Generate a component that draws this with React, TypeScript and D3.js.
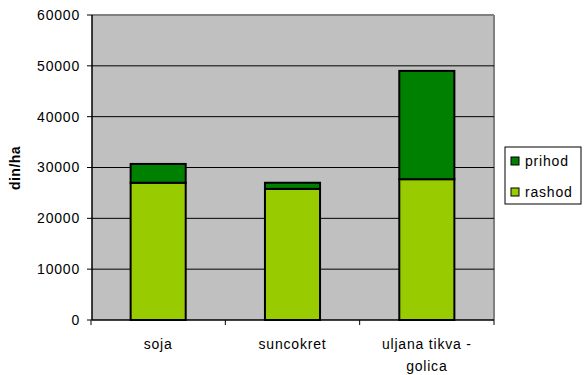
import React from "react";
import * as d3 from "d3";

const categories = ["soja", "suncokret", "uljana tikva - golica"];
const categoryLines = [["soja"], ["suncokret"], ["uljana tikva -", "golica"]];
const rashod = [27000, 25800, 27700];
const prihod = [3700, 1200, 21300];
const yTicks = [0, 10000, 20000, 30000, 40000, 50000, 60000];
const seriesNames = ["prihod", "rashod"];
const seriesColors = ["#008000", "#99CC00"];

export default function App() {
  const W = 584, H = 375;
  const left = 92, right = 494, top = 15, bottom = 320;
  const x = d3.scaleBand<string>().domain(categories).range([left - 1, right]).paddingInner(0.59).paddingOuter(0.295);
  const y = d3.scaleLinear().domain([0, 60000]).range([bottom, top]);
  const font = "Arial, 'Liberation Sans', sans-serif";
  const ls = 0.8;
  return (
    <svg width={W} height={H} style={{ position: "absolute", left: 0, top: 0 }} fontFamily={font}>
      <rect x={0} y={0} width={W} height={H} fill="#fff" />
      <rect x={left} y={top} width={right - left} height={bottom - top} fill="#C0C0C0" />
      <line x1={left} x2={right} y1={top} y2={top} stroke="#808080" strokeWidth={2} />
      <line x1={right} x2={right} y1={top} y2={bottom} stroke="#808080" strokeWidth={2} />
      {yTicks.slice(1, -1).map((t) => (
        <line key={t} x1={left} x2={right} y1={y(t)} y2={y(t)} stroke="#000" strokeWidth={1} />
      ))}
      {categories.map((c, i) => {
        const bx = x(c)!;
        const bw = x.bandwidth();
        return (
          <g key={c}>
            <rect x={bx} y={y(rashod[i])} width={bw} height={y(0) - y(rashod[i])} fill="#99CC00" stroke="#000" strokeWidth={2} />
            <rect x={bx} y={y(rashod[i] + prihod[i])} width={bw} height={y(rashod[i]) - y(rashod[i] + prihod[i])} fill="#008000" stroke="#000" strokeWidth={2} />
          </g>
        );
      })}
      <line x1={left} x2={left} y1={top} y2={bottom} stroke="#000" strokeWidth={1.5} />
      <line x1={left} x2={right} y1={bottom} y2={bottom} stroke="#000" strokeWidth={1.5} />
      {yTicks.map((t) => (
        <g key={t}>
          <line x1={left - 5} x2={left} y1={y(t)} y2={y(t)} stroke="#000" />
          <text x={80} y={y(t)} dy="0.35em" textAnchor="end" fontSize={14} letterSpacing={ls}>{t}</text>
        </g>
      ))}
      {[0, 1, 2, 3].map((k) => {
        const xx = left - 1 + (k * (right - left + 1)) / 3;
        return <line key={k} x1={xx} x2={xx} y1={bottom} y2={bottom + 5} stroke="#000" />;
      })}
      {categories.map((c, i) => (
        <text key={c} x={x(c)! + x.bandwidth() / 2} textAnchor="middle" fontSize={14} letterSpacing={ls}>
          {categoryLines[i].map((ln, j) => (
            <tspan key={j} x={x(c)! + x.bandwidth() / 2} y={349 + j * 22}>{ln}</tspan>
          ))}
        </text>
      ))}
      <text transform={`translate(20,168) rotate(-90)`} textAnchor="middle" fontSize={14} fontWeight="bold" letterSpacing={0.5}>din/ha</text>
      <rect x={505} y={147} width={76} height={57} fill="#fff" stroke="#000" strokeWidth={1} />
      {seriesNames.map((s, i) => (
        <g key={s}>
          <rect x={511} y={157 + i * 31} width={8} height={8} fill={seriesColors[i]} stroke="#000" strokeWidth={1} />
          <text x={525} y={161 + i * 31} dy="0.35em" fontSize={14} letterSpacing={ls}>{s}</text>
        </g>
      ))}
    </svg>
  );
}
